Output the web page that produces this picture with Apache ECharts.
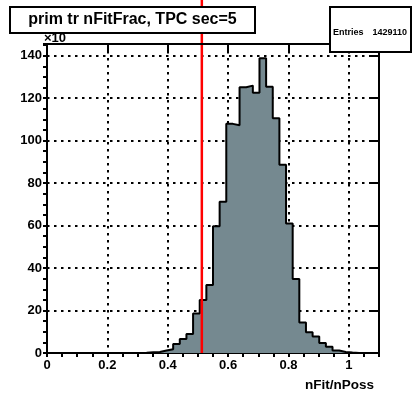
<!DOCTYPE html>
<html>
<head>
<meta charset="utf-8">
<script src="https://cdn.jsdelivr.net/npm/echarts@6/dist/echarts.min.js"></script>
<style>
html,body{margin:0;padding:0;background:#fff;}
#chart{width:412px;height:396px;}
</style>
</head>
<body>
<div id="chart"></div>
<script>
// Histogram: 50 bins over [0, 1.1], counts in units of 10^3
const xMin = 0;
const xMax = 1.1;
const nBins = 50;
const counts = [
  0, 0, 0, 0, 0, 0, 0, 0, 0, 0,
  0, 0, 0, 0, 0.1, 0.3, 0.5, 1.2, 1.8, 4.2,
  6.6, 9, 18.6, 25, 32, 59.7, 71.2, 107.9, 107.2, 125.1,
  125.9, 122.6, 138.8, 125.4, 110.5, 88.6, 61, 34.8, 14.4, 9.8,
  7.8, 4.7, 3, 1.2, 0.5, 0.2, 0, 0, 0, 0
];
const yMax = 145.5;
const xTicks = [0, 0.2, 0.4, 0.6, 0.8, 1];
const yTicks = [0, 20, 40, 60, 80, 100, 120, 140];
const cutValue = [0.513];
const titleText = 'prim tr nFitFrac, TPC sec=5';
const xTitle = 'nFit/nPoss';
const entries = 1429110;

const binW = (xMax - xMin) / nBins;
const stepData = counts.map((v, i) => [xMin + i * binW, v]);
stepData.push([xMax, counts[counts.length - 1]]);

const font = 'Liberation Sans, Arial, Helvetica, sans-serif';
const fmtX = v => (xTicks.some(t => Math.abs(t - v) < 1e-9) ? (Math.abs(v) < 1e-9 ? '0' : String(+v.toFixed(1))) : '');
const fmtY = v => (yTicks.some(t => Math.abs(t - v) < 1e-9) ? String(Math.round(v)) : '');

const grid = { left: 47, right: 33, top: 44, bottom: 43, show: true, borderColor: '#000', borderWidth: 2, backgroundColor: '#fff', z: 0 };
const common = { min: xMin, max: xMax, type: 'value', gridIndex: 0 };

const chart = echarts.init(document.getElementById('chart'), null, { renderer: 'canvas' });
chart.setOption({
  animation: false,
  backgroundColor: '#fff',
  grid: grid,
  xAxis: [
    { ...common, z: 1, interval: 0.2,
      axisLine: { show: false }, axisTick: { show: false },
      axisLabel: { show: true, formatter: fmtX, showMaxLabel: false, fontFamily: font, fontWeight: 'bold', fontSize: 13, color: '#000', margin: 6 },
      splitLine: { show: true, lineStyle: { color: '#000', width: 2, type: [2.5, 4.5] } } },
    { ...common, z: 10, interval: 0.2,
      axisLine: { show: true, onZero: false, lineStyle: { color: '#000', width: 2 } },
      axisTick: { show: true, inside: true, length: 8, lineStyle: { color: '#000', width: 2 } },
      axisLabel: { show: false }, splitLine: { show: false } },
    { ...common, z: 10, interval: 0.05,
      axisLine: { show: false },
      axisTick: { show: true, inside: true, length: 4, lineStyle: { color: '#000', width: 2 } },
      axisLabel: { show: false }, splitLine: { show: false } }
  ],
  yAxis: [
    { type: 'value', min: 0, max: yMax, interval: 20, z: 1,
      axisLine: { show: false }, axisTick: { show: false },
      axisLabel: { show: true, formatter: fmtY, showMaxLabel: false, fontFamily: font, fontWeight: 'bold', fontSize: 13, color: '#000', margin: 5 },
      splitLine: { show: true, lineStyle: { color: '#000', width: 2, type: [2.5, 4.5] } } },
    { type: 'value', min: 0, max: yMax, interval: 20, z: 10,
      axisLine: { show: true, onZero: false, lineStyle: { color: '#000', width: 2 } },
      axisTick: { show: true, inside: true, length: 8, lineStyle: { color: '#000', width: 2 } },
      axisLabel: { show: false }, splitLine: { show: false } },
    { type: 'value', min: 0, max: yMax, interval: 5, z: 10,
      axisLine: { show: false },
      axisTick: { show: true, inside: true, length: 4, lineStyle: { color: '#000', width: 2 } },
      axisLabel: { show: false }, splitLine: { show: false } }
  ],
  series: [
    {
      type: 'line', xAxisIndex: 0, yAxisIndex: 0, z: 3,
      step: 'end', symbol: 'none', data: stepData,
      lineStyle: { color: '#000', width: 2 },
      areaStyle: { color: '#758990', opacity: 1 }
    },
    {
      type: 'custom', xAxisIndex: 0, yAxisIndex: 0, z: 8, clip: false,
      data: cutValue.map(v => [v]),
      renderItem: function (params, api) {
        const p = api.coord([api.value(0), 0]);
        return { type: 'line', shape: { x1: p[0], y1: p[1], x2: p[0], y2: 0 },
                 style: { stroke: '#ff0000', lineWidth: 2.5 } };
      }
    }
  ],
  graphic: [
    { type: 'text', z: 50, left: 44, top: 32,
      style: { text: '×10', font: 'bold 13px ' + font, fill: '#000' } },
    { type: 'text', z: 50, left: 67, top: 27,
      style: { text: '3', font: 'bold 9px ' + font, fill: '#000' } },
    { type: 'rect', z: 100, shape: { x: 10, y: 7, width: 245, height: 26 },
      style: { fill: '#fff', stroke: '#000', lineWidth: 2 } },
    { type: 'text', z: 101, x: 132.5, y: 20,
      style: { text: titleText, font: 'bold 16px ' + font, fill: '#000', textAlign: 'center', textVerticalAlign: 'middle' } },
    { type: 'rect', z: 100, shape: { x: 330, y: 7, width: 81, height: 45 },
      style: { fill: '#fff', stroke: '#000', lineWidth: 2 } },
    { type: 'text', z: 101, x: 333, y: 33,
      style: { text: 'Entries', font: 'bold 9px ' + font, fill: '#000', textAlign: 'left', textVerticalAlign: 'middle' } },
    { type: 'text', z: 101, x: 407, y: 33,
      style: { text: String(entries), font: 'bold 9px ' + font, fill: '#000', textAlign: 'right', textVerticalAlign: 'middle' } },
    { type: 'text', z: 50, x: 374, y: 385,
      style: { text: xTitle, font: 'bold 13.5px ' + font, fill: '#000', textAlign: 'right', textVerticalAlign: 'middle' } }
  ]
});
</script>
</body>
</html>
